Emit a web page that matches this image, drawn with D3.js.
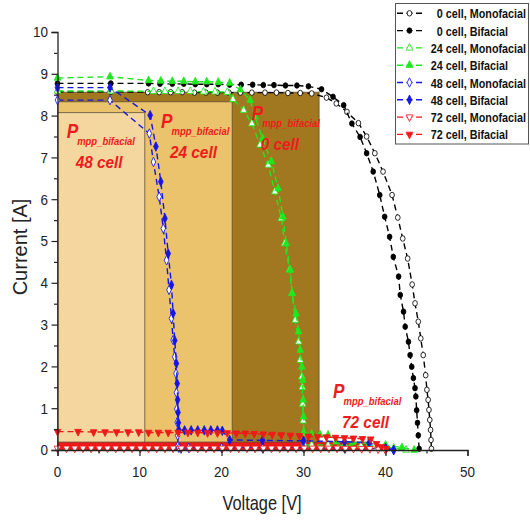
<!DOCTYPE html>
<html>
<head>
<meta charset="utf-8">
<script src="https://cdn.jsdelivr.net/npm/d3@7"></script>
<style>
  body { margin: 0; background: #fff; }
  svg { display: block; }
  text { font-family: "Liberation Sans", Arial, Helvetica, sans-serif; }
</style>
</head>
<body>
<div id="chart"></div>
<script>

// ---- data (V in volts, I in amps) ----
var v0Mono = [0, 6.5, 11.0, 12.4, 13.8, 15.2, 16.7, 18.1, 19.5, 20.9, 22.3, 23.7, 25.3, 26.7, 28.1, 29.6, 31.0, 32.8, 34.0, 35.3, 36.7, 37.7, 38.7, 39.7, 40.8, 41.5, 42.1, 42.7, 43.25, 43.6, 44.0, 44.3, 44.6, 44.9, 45.05, 45.2, 45.3, 45.4, 45.5, 45.55, 45.6];
var i0Mono = [8.57, 8.57, 8.56, 8.56, 8.56, 8.56, 8.55, 8.55, 8.55, 8.55, 8.55, 8.55, 8.55, 8.55, 8.54, 8.54, 8.53, 8.43, 8.29, 8.09, 7.82, 7.50, 7.10, 6.66, 6.10, 5.56, 5.06, 4.58, 3.96, 3.51, 3.07, 2.67, 2.27, 1.79, 1.44, 1.20, 0.96, 0.72, 0.48, 0.24, 0.03];

var v0Bif = [0, 6.5, 11.1, 12.5, 14.0, 15.4, 16.8, 18.2, 19.6, 21.0, 22.4, 23.8, 25.1, 26.4, 27.8, 29.2, 30.6, 32.2, 33.6, 34.9, 35.9, 36.9, 37.7, 38.5, 39.3, 39.9, 40.5, 40.95, 41.6, 41.8, 42.2, 42.4, 42.8, 43.0, 43.2, 43.4, 43.6, 43.7, 43.8, 43.9, 44.0, 44.1];
var i0Bif = [8.77, 8.77, 8.77, 8.76, 8.76, 8.76, 8.75, 8.75, 8.75, 8.74, 8.74, 8.74, 8.73, 8.73, 8.72, 8.72, 8.70, 8.63, 8.45, 8.25, 7.81, 7.49, 7.10, 6.66, 6.10, 5.58, 5.10, 4.62, 4.15, 3.71, 3.31, 2.95, 2.59, 2.27, 1.99, 1.72, 1.48, 1.28, 0.95, 0.65, 0.35, 0.03];

var v24Mono = [0, 6.5, 11.7, 13.1, 14.7, 16.2, 17.8, 19.2, 20.7, 21.4, 22.7, 23.7, 24.7, 25.7, 26.5, 27.3, 27.7, 28.3, 28.6, 29.0, 29.4, 29.6, 29.8, 29.85, 29.9, 29.95, 30.0, 30.1, 31, 33, 35, 37, 39, 41, 42.5];
var i24Mono = [8.59, 8.59, 8.58, 8.58, 8.58, 8.58, 8.57, 8.57, 8.56, 8.39, 8.13, 7.81, 7.30, 6.82, 6.18, 5.54, 4.94, 4.31, 3.75, 3.11, 2.59, 2.15, 1.75, 1.50, 1.10, 0.70, 0.40, 0.12, 0.12, 0.12, 0.11, 0.10, 0.08, 0.05, 0.0];

var v24Bif = [0, 6.4, 11.1, 12.6, 14.0, 15.4, 16.8, 18.2, 19.6, 21.0, 22.3, 23.5, 24.1, 25.0, 26.1, 26.9, 27.5, 27.9, 28.4, 28.6, 29.1, 29.4, 29.6, 29.8, 29.9, 29.95, 30.0, 30.05, 31.0, 32.0, 33.0, 34.0, 36.0, 38.0, 40.0, 42.0, 43.5];
var i24Bif = [8.90, 8.93, 8.84, 8.83, 8.82, 8.82, 8.81, 8.81, 8.80, 8.78, 8.62, 8.37, 7.97, 7.45, 6.90, 6.26, 5.58, 4.94, 4.31, 3.75, 3.26, 2.83, 2.39, 1.99, 1.67, 1.20, 0.80, 0.42, 0.38, 0.37, 0.36, 0.20, 0.18, 0.16, 0.12, 0.06, 0.0];

var v48Mono = [0, 6.4, 11.2, 11.7, 12.4, 12.9, 13.3, 13.6, 13.9, 14.1, 14.3, 14.45, 14.5, 14.55, 14.6, 14.65, 14.7, 14.8, 16, 20, 25, 30, 35, 40, 41];
var i48Mono = [8.37, 8.37, 7.57, 6.89, 6.06, 5.30, 4.54, 3.83, 3.15, 2.63, 2.23, 1.83, 1.37, 0.98, 0.66, 0.35, 0.10, 0.05, 0.05, 0.05, 0.05, 0.05, 0.04, 0.03, 0.0];

var v48Bif = [0, 6.4, 11.3, 12.0, 12.6, 13.1, 13.5, 13.9, 14.1, 14.3, 14.5, 14.6, 14.65, 14.7, 14.75, 14.8, 15.5, 16.3, 17.1, 17.9, 18.7, 19.5, 20.1, 21.0, 25, 30, 35, 38, 40, 41];
var i48Bif = [8.67, 8.67, 8.01, 7.26, 6.42, 5.54, 4.70, 3.95, 3.27, 2.62, 2.07, 1.59, 1.20, 0.90, 0.65, 0.48, 0.47, 0.47, 0.47, 0.47, 0.47, 0.47, 0.46, 0.24, 0.23, 0.22, 0.20, 0.17, 0.05, 0.0];

var v72Mono = [0, 1.1, 2.1, 3.1, 4.1, 5.1, 6.1, 7.1, 8.1, 9.1, 10.1, 11.1, 12.1, 13.1, 14.1, 15.1, 16.1, 17.1, 18.1, 19.1, 20.1, 21.1, 22.1, 23.1, 24.1, 25.1, 26.1, 27.1, 28.1, 29.1, 30.1, 31.1, 32.1, 33.1, 34.1, 35.1, 36.1, 37.1, 38.1, 39.1, 40.0];
var i72Mono = [0.04, 0.04, 0.04, 0.04, 0.04, 0.04, 0.04, 0.04, 0.04, 0.04, 0.04, 0.04, 0.04, 0.04, 0.04, 0.04, 0.04, 0.04, 0.04, 0.04, 0.04, 0.04, 0.04, 0.04, 0.04, 0.04, 0.04, 0.04, 0.04, 0.04, 0.04, 0.04, 0.04, 0.04, 0.04, 0.035, 0.035, 0.03, 0.03, 0.02, 0.0];

var v72Bif = [0, 2.5, 4.4, 5.8, 7.2, 8.6, 9.9, 11.1, 12.3, 13.5, 14.7, 15.9, 17.1, 18.3, 19.5, 20.7, 21.8, 22.9, 24.0, 25.1, 26.2, 27.3, 28.4, 29.5, 30.6, 31.7, 32.8, 33.9, 35.0, 36.1, 37.2, 38.2, 38.9, 39.5, 40.1];
var i72Bif = [0.44, 0.44, 0.43, 0.43, 0.43, 0.43, 0.43, 0.42, 0.42, 0.42, 0.42, 0.42, 0.42, 0.41, 0.41, 0.41, 0.40, 0.40, 0.39, 0.38, 0.37, 0.36, 0.35, 0.34, 0.33, 0.32, 0.31, 0.30, 0.29, 0.28, 0.27, 0.26, 0.15, 0.08, 0.03];

var seriesNames = ["0 cell, Monofacial", "0 cell, Bifacial", "24 cell, Monofacial", "24 cell, Bifacial",
                   "48 cell, Monofacial", "48 cell, Bifacial", "72 cell, Monofacial", "72 cell, Bifacial"];

// P_mpp (bifacial) rectangles: cells, voltage and current at the MPP
var pmppCells = ["0 cell", "24 cell", "48 cell", "72 cell"];
var pmppV = [31.9, 21.3, 10.65, 38.0];
var pmppI = [8.56, 8.33, 8.07, 0.19];

var xTicks = [0, 10, 20, 30, 40, 50];
var xMinor = [5, 15, 25, 35, 45];
var yTicks = [0, 1, 2, 3, 4, 5, 6, 7, 8, 9, 10];
var yMinor = [0.5, 1.5, 2.5, 3.5, 4.5, 5.5, 6.5, 7.5, 8.5, 9.5];

// ---- styles / layout ----
var width = 530, height = 522;
var black = "#000", green = "#1ee81e", blue = "#1515e6", red = "#f01818";
var seriesStyle = [
  {color: black, sym: d3.symbolCircle, open: true},
  {color: black, sym: d3.symbolCircle, open: false},
  {color: green, sym: d3.symbolTriangle, open: true},
  {color: green, sym: d3.symbolTriangle, open: false},
  {color: blue, sym: d3.symbolDiamond, open: true},
  {color: blue, sym: d3.symbolDiamond, open: false},
  {color: red, sym: "down", open: true},
  {color: red, sym: "down", open: false}
];
var seriesData = [[v0Mono, i0Mono], [v0Bif, i0Bif], [v24Mono, i24Mono], [v24Bif, i24Bif],
                  [v48Mono, i48Mono], [v48Bif, i48Bif], [v72Mono, i72Mono], [v72Bif, i72Bif]];
var rectFill = ["#a1781f", "#eac36c", "#f3d79f", "#f01818"];
// annotation anchors (data units: left of "P", baseline)
var annoAt = [[23.68, 7.89], [12.62, 7.70], [1.12, 7.46], [33.6, 1.24]];

var svg = d3.select("#chart")
  .append("svg")
    .attr("width", width)
    .attr("height", height);

var x = d3.scaleLinear().domain([0, 50]).range([57.5, 467.5]);
var y = d3.scaleLinear().domain([0, 10]).range([450, 32]);

// rectangles
svg.append("g").selectAll("rect")
  .data(pmppCells)
  .join("rect")
    .attr("x", x(0))
    .attr("y", (d, k) => y(pmppI[k]))
    .attr("width", (d, k) => x(pmppV[k]) - x(0))
    .attr("height", (d, k) => y(0) - y(pmppI[k]))
    .attr("fill", (d, k) => rectFill[k])
    .attr("stroke", "#5e5038")
    .attr("stroke-width", 0.8);

// symbol helper
function symPath(s, size) {
  if (s === "down") return d3.symbol(d3.symbolTriangle, size)();
  return d3.symbol(s, size)();
}
function symSize(s) {
  if (s === d3.symbolCircle) return 24;
  if (s === d3.symbolDiamond) return 26;
  return 26;
}
function symTransform(px, py, s) {
  var t = "translate(" + px + "," + py + ")";
  if (s === "down") t += " rotate(180)";
  return t + " scale(0.85,1)";
}

// curves
var line = d3.line().x(d => x(d[0])).y(d => y(d[1]));
seriesData.forEach(function(sd, k) {
  var st = seriesStyle[k];
  var pts = sd[0].map((v, j) => [v, sd[1][j]]);
  var g = svg.append("g");
  g.append("path")
    .datum(pts)
    .attr("fill", "none")
    .attr("stroke", st.color)
    .attr("stroke-width", 1.4)
    .attr("stroke-dasharray", "6,4")
    .attr("d", line);
  g.selectAll("path.m")
    .data(pts)
    .join("path")
      .attr("class", "m")
      .attr("d", symPath(st.sym, symSize(st.sym)))
      .attr("transform", d => symTransform(x(d[0]), y(d[1]), st.sym))
      .attr("fill", st.open ? "#fff" : st.color)
      .attr("stroke", st.color)
      .attr("stroke-width", 0.9);
});

// axes
var axColor = "#222";
svg.append("g")
  .attr("transform", "translate(0," + y(0) + ")")
  .call(d3.axisBottom(x).tickValues(xTicks).tickSize(6).tickFormat(""))
  .call(g => g.select(".domain").attr("stroke", axColor).attr("stroke-width", 1.3));
svg.append("g")
  .attr("transform", "translate(0," + y(0) + ")")
  .call(d3.axisBottom(x).tickValues(xMinor).tickSize(3.5).tickFormat(""))
  .call(g => g.select(".domain").remove());
svg.append("g")
  .attr("transform", "translate(" + x(0) + ",0)")
  .call(d3.axisLeft(y).tickValues(yTicks).tickSize(6).tickFormat(""))
  .call(g => g.select(".domain").attr("stroke", axColor).attr("stroke-width", 1.3));
svg.append("g")
  .attr("transform", "translate(" + x(0) + ",0)")
  .call(d3.axisLeft(y).tickValues(yMinor).tickSize(3.5).tickFormat(""))
  .call(g => g.select(".domain").remove());
svg.selectAll(".tick line").attr("stroke", axColor).attr("stroke-width", 1.2);

// tick labels
svg.append("g").selectAll("text")
  .data(xTicks)
  .join("text")
    .attr("transform", d => "translate(" + x(d) + ",476.5) scale(0.9,1)")
    .attr("text-anchor", "middle")
    .attr("font-size", 15)
    .attr("fill", "#222")
    .text(d => d);
svg.append("g").selectAll("text")
  .data(yTicks)
  .join("text")
    .attr("transform", d => "translate(48," + (y(d) + 5.3) + ") scale(0.9,1)")
    .attr("text-anchor", "end")
    .attr("font-size", 15)
    .attr("fill", "#222")
    .text(d => d);

// axis titles
svg.append("text")
  .attr("transform", "translate(262,510) scale(0.82,1)")
  .attr("text-anchor", "middle")
  .attr("font-size", 20)
  .attr("fill", "#222")
  .text("Voltage [V]");
svg.append("text")
  .attr("transform", "translate(27,247) rotate(-90)")
  .attr("text-anchor", "middle")
  .attr("font-size", 20)
  .attr("fill", "#222")
  .text("Current [A]");

// P_mpp annotations
var annoColor = "#ee1c1c";
pmppCells.forEach(function(c, k) {
  var px = x(annoAt[k][0]), py = y(annoAt[k][1]);
  var g = svg.append("g")
    .attr("fill", annoColor)
    .attr("font-weight", "bold")
    .attr("font-style", "italic");
  g.append("text")
    .attr("transform", "translate(" + px + "," + py + ") scale(0.88,1)")
    .attr("font-size", 19.5)
    .text("P");
  g.append("text")
    .attr("transform", "translate(" + (px + 10.5) + "," + (py + 6.5) + ") scale(0.86,1)")
    .attr("font-size", 11)
    .text("mpp_bifacial");
  g.append("text")
    .attr("transform", "translate(" + (px + 9) + "," + (py + 30) + ") scale(0.96,1)")
    .attr("font-size", 16)
    .text(c);
});

// legend
var lg = svg.append("g");
lg.append("rect")
  .attr("x", 395.5).attr("y", 3.5)
  .attr("width", 133).attr("height", 140.5)
  .attr("fill", "#fff")
  .attr("stroke", "#555")
  .attr("stroke-width", 1);
seriesNames.forEach(function(name, k) {
  var st = seriesStyle[k];
  var cy = 13.3 + k * 17.3;
  lg.append("line")
    .attr("x1", 397).attr("x2", 425)
    .attr("y1", cy).attr("y2", cy)
    .attr("stroke", st.color)
    .attr("stroke-width", 1.4)
    .attr("stroke-dasharray", "6,3.5");
  lg.append("path")
    .attr("d", symPath(st.sym, symSize(st.sym)))
    .attr("transform", symTransform(409.5, cy, st.sym))
    .attr("fill", st.open ? "#fff" : st.color)
    .attr("stroke", st.color)
    .attr("stroke-width", 0.9);
  var shift = /^\d /.test(name) ? 6 : 0;
  lg.append("text")
    .attr("transform", "translate(" + (430.7 + shift) + "," + (cy + 5) + ") scale(0.8,1)")
    .attr("font-size", 13.5)
    .attr("font-weight", "bold")
    .attr("fill", "#111")
    .text(name);
});
</script>
</body>
</html>
